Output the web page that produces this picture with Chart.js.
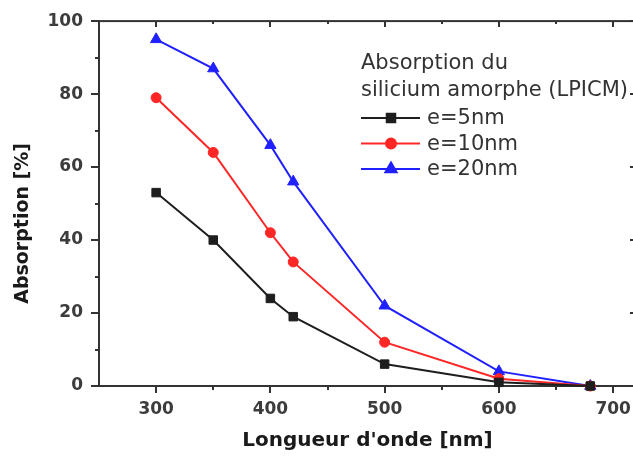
<!DOCTYPE html>
<html>
<head>
<meta charset="utf-8">
<script src="https://cdn.jsdelivr.net/npm/chart.js@4/dist/chart.umd.min.js"></script>
<style>
  html, body { margin: 0; padding: 0; background: #fff; overflow: hidden; }
  #wrap { width: 645px; height: 457px; }
</style>
</head>
<body>
<div id="wrap"><canvas id="chart" width="645" height="457"></canvas></div>
<script>
// DATA
const wavelengths = [300, 350, 400, 420, 500, 600, 680];
const abs5nm  = [53, 40, 24, 19, 6, 1, 0];
const abs10nm = [79, 64, 42, 34, 12, 2, 0];
const abs20nm = [95, 87, 66, 56, 22, 4, 0];

const seriesLabels = ['e=5nm', 'e=10nm', 'e=20nm'];
const legendTitle = ['Absorption du', 'silicium amorphe (LPICM)'];

const xMajor = [300, 400, 500, 600, 700];
const xMinor = [350, 450, 550, 650];
const yMajor = [0, 20, 40, 60, 80, 100];
const yMinor = [10, 30, 50, 70, 90];

const axisColor = '#333';
const family = '"DejaVu Sans", sans-serif';

// frame + ticks on all four sides (left/bottom outward, top/right inward)
const framePlugin = {
  id: 'frame',
  beforeDatasetsDraw(chart) {
    const { ctx, chartArea: a, scales: { x, y } } = chart;
    ctx.save();
    ctx.strokeStyle = axisColor;
    ctx.lineWidth = 2;
    ctx.strokeRect(a.left, a.top, a.right - a.left, a.bottom - a.top);
    ctx.beginPath();
    xMajor.concat(xMinor).forEach(v => {
      const major = xMajor.includes(v);
      const px = Math.round(x.getPixelForValue(v));
      ctx.moveTo(px, a.bottom); ctx.lineTo(px, a.bottom + (major ? 7 : 4));
      ctx.moveTo(px, a.top); ctx.lineTo(px, a.top + (major ? 6 : 3));
    });
    yMajor.concat(yMinor).forEach(v => {
      const major = yMajor.includes(v);
      const py = Math.round(y.getPixelForValue(v));
      ctx.moveTo(a.left, py); ctx.lineTo(a.left - (major ? 8 : 4), py);
      ctx.moveTo(a.right, py); ctx.lineTo(a.right - (major ? 6 : 3), py);
    });
    ctx.stroke();
    ctx.restore();
  }
};

// legend drawn inside the plot area
const innerLegend = {
  id: 'innerLegend',
  afterDraw(chart) {
    const ctx = chart.ctx;
    ctx.save();
    ctx.font = '21px ' + family;
    ctx.fillStyle = '#333';
    ctx.textBaseline = 'middle';
    ctx.textAlign = 'left';
    ctx.fillText(legendTitle[0], 361, 64);
    ctx.fillText(legendTitle[1], 361, 91);
    chart.data.datasets.forEach((ds, i) => {
      const yy = 118 + i * 25.5;
      ctx.strokeStyle = ds.borderColor;
      ctx.lineWidth = 2;
      ctx.beginPath();
      ctx.moveTo(361, yy); ctx.lineTo(420, yy);
      ctx.stroke();
      ctx.fillStyle = ds.backgroundColor;
      ctx.strokeStyle = ds.borderColor;
      Chart.helpers.drawPoint(ctx, {
        pointStyle: ds.pointStyle, radius: ds.pointRadius, rotation: 0, borderWidth: 1
      }, 391, yy);
      ctx.fillStyle = '#333';
      ctx.fillText(ds.label, 427, yy + 1);
    });
    ctx.restore();
  }
};

function series(label, values, color, style, radius) {
  return {
    label: label,
    data: wavelengths.map((w, i) => ({ x: w, y: values[i] })),
    borderColor: color,
    backgroundColor: color,
    borderWidth: 2,
    pointStyle: style,
    pointRadius: radius,
    pointBorderWidth: 1,
    tension: 0,
    clip: false
  };
}

new Chart(document.getElementById('chart'), {
  type: 'line',
  data: {
    datasets: [
      series(seriesLabels[0], abs5nm, '#1e1e1e', 'rect', 6),
      series(seriesLabels[1], abs10nm, '#ff2626', 'circle', 5),
      series(seriesLabels[2], abs20nm, '#2020ff', 'triangle', 6.5)
    ]
  },
  options: {
    responsive: false,
    animation: false,
    devicePixelRatio: 1,
    layout: { padding: { top: 21, right: 9, bottom: 0, left: 0 } },
    plugins: { legend: { display: false }, tooltip: { enabled: false } },
    scales: {
      x: {
        type: 'linear',
        min: 250,
        max: 720,
        afterBuildTicks: s => { s.ticks = xMajor.map(v => ({ value: v })); },
        afterFit: s => { s.height = 71; },
        grid: { display: false, drawTicks: false },
        border: { display: false },
        ticks: {
          padding: 13,
          color: '#3c3c3c',
          font: { family: family, size: 17, weight: 'bold' }
        },
        title: {
          display: true,
          text: "Longueur d'onde [nm]",
          color: '#1a1a1a',
          font: { family: family, size: 20, weight: 'bold' },
          padding: { top: 0, bottom: 4 }
        }
      },
      y: {
        min: 0,
        max: 100,
        afterBuildTicks: s => { s.ticks = yMajor.map(v => ({ value: v })); },
        afterFit: s => { s.width = 99; },
        grid: { display: false, drawTicks: false },
        border: { display: false },
        ticks: {
          padding: 16,
          color: '#3c3c3c',
          font: { family: family, size: 17, weight: 'bold', lineHeight: 0.6 }
        },
        title: {
          display: true,
          text: 'Absorption [%]      ',
          color: '#1a1a1a',
          font: { family: family, size: 19, weight: 'bold' },
          padding: { top: 12, bottom: 0 }
        }
      }
    }
  },
  plugins: [framePlugin, innerLegend]
});
</script>
</body>
</html>
